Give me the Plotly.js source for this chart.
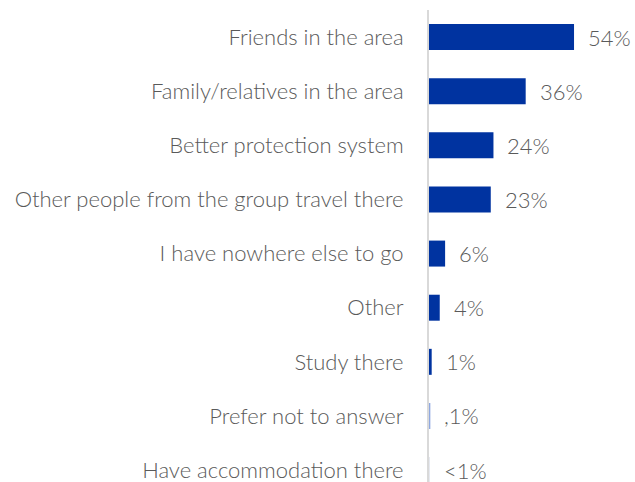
<!DOCTYPE html>
<html>
<head>
<meta charset="utf-8">
<script src="https://cdn.plot.ly/plotly-3.0.1.min.js"></script>
<style>html,body{margin:0;padding:0;background:#fff}#chart{width:635px;height:482px}</style>
</head>
<body>
<div id="chart"></div>
<script>
const categories = [
  "Friends in the area",
  "Family/relatives in the area",
  "Better protection system",
  "Other people from the group travel there",
  "I have nowhere else to go",
  "Other",
  "Study there",
  "Prefer not to answer",
  "Have accommodation there"
];
const values = [54, 36, 24, 23, 6, 4, 1, 0.5, 0.2];
const valueLabels = ["54%", "36%", "24%", "23%", "6%", "4%", "1%", ",1%", "<1%"];
const barColors = ["#0033a0","#0033a0","#0033a0","#0033a0","#0033a0","#0033a0","#0033a0","#8fa8e0","#d0d6e4"];

const labelFont = {family: "Lato, sans-serif", size: 22, color: "#5a5a5a", weight: 300};

const trace = {
  type: "bar",
  orientation: "h",
  y: categories,
  x: values,
  marker: {color: barColors},
  hoverinfo: "skip"
};

const annotations = categories.map((c, i) => ({
  x: values[i], y: c, xref: "x", yref: "y",
  text: valueLabels[i], showarrow: false,
  xanchor: "left", xshift: 12,
  font: labelFont
}));

const layout = {
  width: 635, height: 482,
  margin: {l: 429, r: 0, t: 10, b: 0},
  paper_bgcolor: "#fff", plot_bgcolor: "#fff",
  bargap: 0.52,
  showlegend: false,
  font: labelFont,
  xaxis: {range: [0, 76.7], visible: false, fixedrange: true},
  yaxis: {
    type: "category",
    range: [8.22, -0.5],
    showline: true, linecolor: "#d9d9d9", linewidth: 2,
    showgrid: false, zeroline: false,
    ticks: "outside", ticklen: 19, tickcolor: "rgba(0,0,0,0)",
    tickfont: labelFont,
    fixedrange: true
  },
  annotations: annotations
};

Plotly.newPlot("chart", [trace], layout, {displayModeBar: false, staticPlot: true});
</script>
</body>
</html>
